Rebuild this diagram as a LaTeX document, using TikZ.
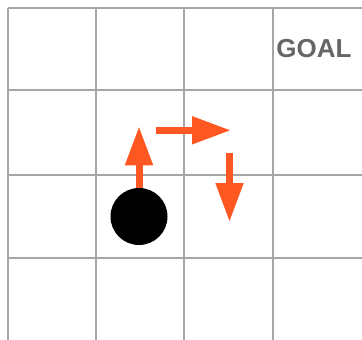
\documentclass[tikz,border=0pt]{standalone}
\usepackage{fontspec}
\setmainfont{Liberation Sans}
\usetikzlibrary{arrows.meta}
\definecolor{gridgray}{HTML}{A6A6A6}
\definecolor{arroworange}{HTML}{FF5722}
\definecolor{goalgray}{HTML}{666666}
\begin{document}
\begin{tikzpicture}[x=1pt,y=-1pt,
  gridline/.style={draw=gridgray,line width=2pt},
  movearrow/.style={draw=arroworange,line width=7pt,
    -{Triangle[length=38pt,width=28.5pt,line width=0pt]}},
  agentdot/.style={circle,fill=black,minimum size=57pt,inner sep=0pt},
  goaltext/.style={font=\bfseries\fontsize{26}{27}\selectfont,text=goalgray,inner sep=0pt,anchor=base}]
\useasboundingbox (0,0) rectangle (362,340);
% grid
\foreach \x in {8,96,184,272.5}
  \draw[gridline] (\x,7.5) -- (\x,340);
\foreach \y in {7.5,90,174.5,258}
  \draw[gridline] (8,\y) -- (362,\y);
% goal
\node[goaltext] (goal) at (314,57.7) {GOAL};
% arrow endpoints
\coordinate (agentc) at (139,216.5);
\coordinate (uptip) at (139,127.3);
\coordinate (rstart) at (156,130.3);
\coordinate (rtip) at (230,130.3);
\coordinate (dstart) at (229.5,152.7);
\coordinate (dtip) at (229.5,221);
\draw[movearrow] (agentc) -- (uptip);
\draw[movearrow] (rstart) -- (rtip);
\draw[movearrow] (dstart) -- (dtip);
% agent
\node[agentdot] (agent) at (agentc) {};
\end{tikzpicture}
\end{document}
